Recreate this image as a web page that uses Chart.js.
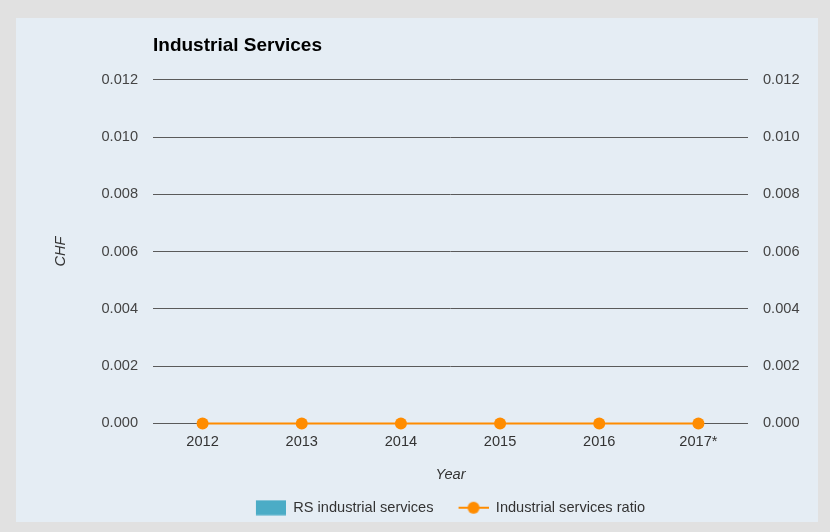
<!DOCTYPE html>
<html>
<head>
<meta charset="utf-8">
<script src="https://cdn.jsdelivr.net/npm/chart.js@4.4.0/dist/chart.umd.min.js"></script>
<style>
  html, body { margin: 0; padding: 0; background: #e1e1e1; }
  #panel { position: absolute; left: 16px; top: 18px; width: 802px; height: 504px; background: #e5edf4; }
  #wrap { position: absolute; left: 0; top: 0; width: 830px; height: 532px; }
</style>
</head>
<body>
<div id="panel"></div>
<div id="wrap"><canvas id="chart" width="830" height="532"></canvas></div>
<script>
const years = ["2012", "2013", "2014", "2015", "2016", "2017*"];
const rsIndustrialServices = [0, 0, 0, 0, 0, 0];
const industrialServicesRatio = [0, 0, 0, 0, 0, 0];

const BAR_COLOR = "#4bacc6";
const LINE_COLOR = "#ff8c00";
const FONT = "'Liberation Sans', Arial, sans-serif";

// legend swatches: 45px wide, content in the right 30px so items get extra spacing
function swatch(drawFn) {
  const c = document.createElement("canvas");
  c.width = 45;
  c.height = 16;
  drawFn(c.getContext("2d"));
  return c;
}
const barSwatch = swatch(ctx => {
  ctx.fillStyle = BAR_COLOR;
  ctx.fillRect(15, 0.5, 30, 15);
});
const lineSwatch = swatch(ctx => {
  ctx.strokeStyle = LINE_COLOR;
  ctx.lineWidth = 2;
  ctx.beginPath();
  ctx.moveTo(15, 8);
  ctx.lineTo(45, 8);
  ctx.stroke();
  ctx.fillStyle = LINE_COLOR;
  ctx.beginPath();
  ctx.arc(30, 8, 6, 0, Math.PI * 2);
  ctx.fill();
});

const tickFmt = v => Number(v).toFixed(3);

// pull the legend row back left by the empty margin of the first swatch
const legendShift = {
  id: "legendShift",
  afterLayout(chart) {
    chart.legend.left -= 7.5;
    chart.legend.right -= 7.5;
  }
};

new Chart(document.getElementById("chart"), {
  type: "bar",
  data: {
    labels: years,
    datasets: [
      {
        type: "line",
        label: "Industrial services ratio",
        data: industrialServicesRatio,
        borderColor: LINE_COLOR,
        backgroundColor: LINE_COLOR,
        borderWidth: 2,
        pointRadius: 6,
        pointHoverRadius: 6,
        pointBorderWidth: 0,
        clip: false,
        yAxisID: "y",
        order: 0
      },
      {
        label: "RS industrial services",
        data: rsIndustrialServices,
        backgroundColor: BAR_COLOR,
        borderWidth: 0,
        yAxisID: "y",
        order: 1
      }
    ]
  },
  plugins: [legendShift],
  options: {
    responsive: false,
    animation: false,
    layout: { padding: { left: 0, right: 0, top: 0, bottom: 7 } },
    plugins: {
      title: {
        display: true,
        text: "Industrial Services",
        align: "start",
        fullSize: false,
        color: "#000",
        font: { family: FONT, size: 19, weight: "bold" },
        padding: { top: 34, bottom: 23 }
      },
      legend: {
        position: "bottom",
        fullSize: false,
        labels: {
          color: "#333",
          font: { family: FONT, size: 14.6 },
          usePointStyle: true,
          pointStyleWidth: 45,
          boxHeight: 15,
          padding: 10,
          generateLabels: () => [
            { text: "RS industrial services", pointStyle: barSwatch, fontColor: "#333", datasetIndex: 1, lineWidth: 0 },
            { text: "Industrial services ratio", pointStyle: lineSwatch, fontColor: "#333", datasetIndex: 0, lineWidth: 0 }
          ]
        }
      },
      tooltip: { enabled: false }
    },
    scales: {
      x: {
        offset: true,
        grid: { display: false, drawTicks: false },
        border: { display: false },
        ticks: { color: "#333", font: { family: FONT, size: 14.6 }, padding: 10 },
        title: {
          display: true,
          text: "Year",
          color: "#333",
          font: { family: FONT, size: 14.6, style: "italic" },
          padding: { top: 0, bottom: 7 }
        },
        afterFit: s => { s.height = 67; }
      },
      y: {
        position: "left",
        min: 0,
        max: 0.012,
        grid: { color: "#5a5a5a", lineWidth: 1, drawTicks: false },
        border: { display: false },
        ticks: { stepSize: 0.002, color: "#444", font: { family: FONT, size: 14.6 }, padding: 15, callback: tickFmt },
        title: {
          display: true,
          text: "CHF",
          color: "#333",
          font: { family: FONT, size: 14.6, style: "italic" },
          padding: { top: 52, bottom: 0 }
        },
        afterFit: s => { s.width = 153; }
      },
      y2: {
        position: "right",
        min: 0,
        max: 0.012,
        grid: { display: false, drawTicks: false },
        border: { display: false },
        ticks: { stepSize: 0.002, color: "#444", font: { family: FONT, size: 14.6 }, padding: 15, callback: tickFmt },
        afterFit: s => { s.width = 82; }
      }
    }
  }
});
</script>
</body>
</html>
